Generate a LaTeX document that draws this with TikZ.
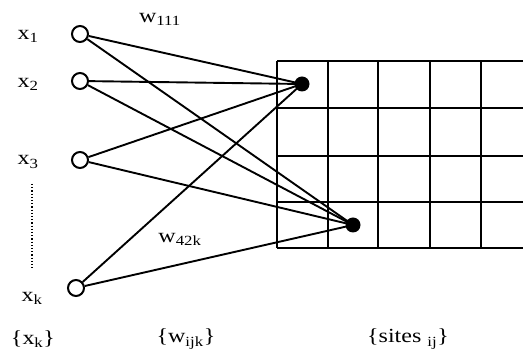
\documentclass[tikz,border=0pt]{standalone}
\usepackage{fontspec}
\setmainfont{Liberation Serif}
\begin{document}
\begin{tikzpicture}[x=1pt,y=-1pt,
  inp/.style={circle,draw,line width=2pt,minimum size=16pt,inner sep=0pt},
  site/.style={circle,fill=black,minimum size=15pt,inner sep=0pt},
  lab/.style={inner sep=0pt,font=\fontsize{20}{22}\selectfont},
  conn/.style={line width=1.9pt},
  gridline/.style={line width=2.1pt}]
\useasboundingbox (0,0) rectangle (523,355);
% grid
\draw[gridline] (277,61) -- (523,61) (277,108) -- (523,108) (277,156) -- (523,156) (277,202) -- (523,202) (277,248) -- (523,248);
\draw[gridline] (277,61) -- (277,248) (328,61) -- (328,248) (378,61) -- (378,248) (430,61) -- (430,248) (481,61) -- (481,248);
% inputs
\node[inp] (i1) at (80,34) {};
\node[inp] (i2) at (80,81) {};
\node[inp] (i3) at (80,160) {};
\node[inp] (ik) at (76,288) {};
% sites
\node[site] (s1) at (302,84) {};
\node[site] (s2) at (353,225) {};
% connections
\foreach \a in {i1,i2,i3,ik} {
  \draw[conn] (\a) -- (s1.center);
  \draw[conn] (\a) -- (s2.center);
}
% labels
\node[lab] (l1) at (28,36) {\scalebox{1.2}[1]{x\textsubscript{1}}};
\node[lab] (l2) at (28,84) {\scalebox{1.2}[1]{x\textsubscript{2}}};
\node[lab] (l3) at (28,162) {\scalebox{1.2}[1]{x\textsubscript{3}}};
\node[lab] (lk) at (32,298) {\scalebox{1.2}[1]{x\textsubscript{k}}};
\coordinate (d1) at (32,184);
\coordinate (d2) at (32,270);
\draw[line width=1.2pt,dotted] (d1) -- (d2);
\node[lab] (w1) at (160,19) {\scalebox{1.2}[1]{w\textsubscript{111}}};
\node[lab] (w2) at (180,239) {\scalebox{1.2}[1]{w\textsubscript{42k}}};
\node[lab] (bx) at (33,339) {\scalebox{1.2}[1]{\{x\textsubscript{k}\}}};
\node[lab] (bw) at (186,339) {\scalebox{1.2}[1]{\{w\textsubscript{ijk}\}}};
\node[lab] (bs) at (408,339) {\scalebox{1.2}[1]{\{sites \textsubscript{ij}\}}};
\end{tikzpicture}
\end{document}
